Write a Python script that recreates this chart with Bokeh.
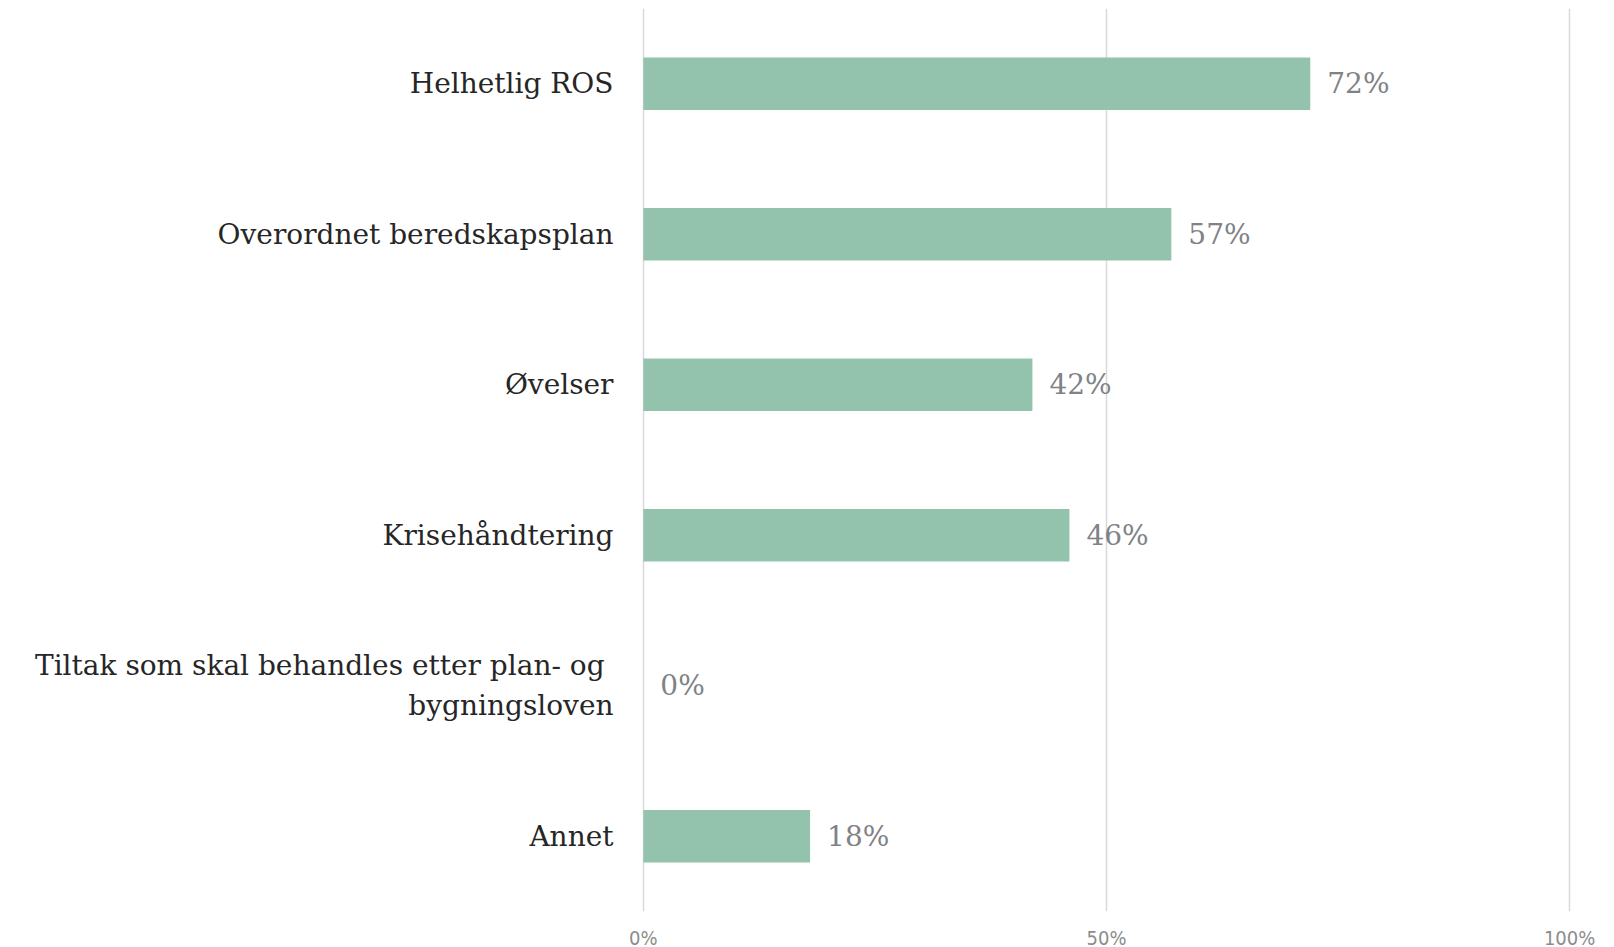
from bokeh.plotting import figure
from bokeh.models import ColumnDataSource, Range1d, FixedTicker, NumeralTickFormatter
from bokeh.core.properties import value
from bokeh.embed import file_html
from bokeh.resources import INLINE

categories = ["Helhetlig ROS", "Overordnet beredskapsplan", "Øvelser", "Krisehåndtering",
              "Tiltak som  skal behandles etter plan- og\nbygningsloven", "Annet"]
values = [0.72, 0.57, 0.42, 0.46, 0.0, 0.18]
labels = ["72%", "57%", "42%", "46%", "0%", "18%"]
ticks = [0, 0.5, 1.0]

src = ColumnDataSource(dict(cat=categories, val=values, lab=labels))

p = figure(frame_width=930, frame_height=903, y_range=list(reversed(categories)),
           x_range=Range1d(-0.002, 1.002), output_backend="svg", toolbar_location=None,
           min_border_left=641, min_border_right=34, min_border_top=8, min_border_bottom=0)
p.outline_line_color = None
p.background_fill_color = "white"

p.hbar(y="cat", right="val", left=0, height=0.35, source=src, color="#93c2ad", line_color=None)
p.text(x="val", y="cat", text="lab", source=src, x_offset=17, text_baseline="middle",
       text_align="left", text_font=value("DejaVu Serif"), text_font_size="28px", text_color="#808285")

p.xaxis.ticker = FixedTicker(ticks=ticks)
p.xaxis.formatter = NumeralTickFormatter(format="0%")
p.xaxis.axis_line_color = None
p.xaxis.major_tick_line_color = None
p.xaxis.minor_tick_line_color = None
p.xaxis.major_label_text_font = "'DejaVu Sans Condensed', 'Liberation Sans', sans-serif"
p.xaxis.major_label_text_font_size = "20px"
p.xaxis.major_label_text_color = "#8c8c8c"
p.xaxis.major_label_standoff = 8

p.yaxis.axis_line_color = None
p.yaxis.major_tick_line_color = None
p.yaxis.minor_tick_line_color = None
p.yaxis.major_label_text_font = "DejaVu Serif"
p.yaxis.major_label_text_font_size = "28px"
p.yaxis.major_label_text_color = "#262626"
p.yaxis.major_label_standoff = 22

p.xgrid.grid_line_color = "#d9d9d9"
p.xgrid.grid_line_width = 1.5
p.ygrid.grid_line_color = None

open("out.html", "w").write(file_html(p, INLINE))
